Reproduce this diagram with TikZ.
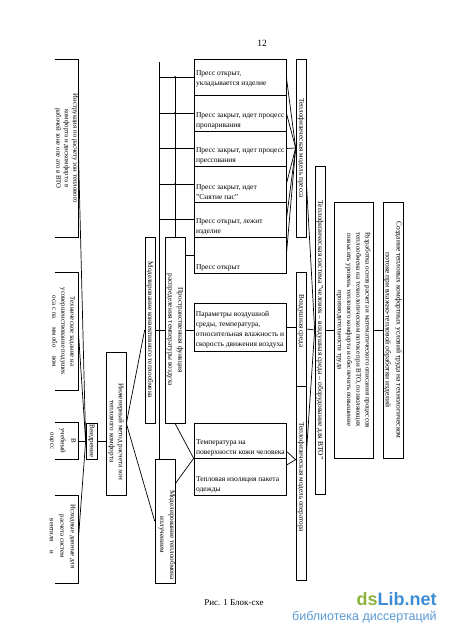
\documentclass[tikz,border=0pt]{standalone}
\usepackage{fontspec}
\setmainfont{Liberation Serif}
\newfontfamily\wmfont{Liberation Sans}
\usetikzlibrary{calc}
\definecolor{wmgreen}{HTML}{8DB33C}
\definecolor{wmblue}{HTML}{3D8DD4}
\definecolor{wmlight}{HTML}{5B9BD5}
\begin{document}
\begin{tikzpicture}[x=1pt,y=-1pt,line width=0.7pt,
  bx/.style={draw, rectangle, inner sep=0pt},
  obx/.style={rectangle, inner sep=0pt},
  vt/.style={rotate=-90, align=center, inner sep=0pt, font=\fontsize{7.2}{9}\selectfont},
  rt/.style={align=left, inner sep=2pt, anchor=south west, font=\fontsize{7.5}{10}\selectfont},
  dot/.style={circle, fill, inner sep=0pt, minimum size=2pt}]
\fill[white] (0,0) rectangle (450,636);
\useasboundingbox (0,0) rectangle (450,636);

\node (pnum) at (262,43) {\fontsize{9.5}{11}\selectfont 12};

% left column (open on the left)
\node[obx, minimum width=23, minimum height=177] (instr) at (66.5,148.5) {};
\node[obx, minimum width=23, minimum height=117] (tech) at (66.5,331.5) {};
\node[obx, minimum width=23, minimum height=36] (ucheb) at (66.5,441) {};
\node[obx, minimum width=23, minimum height=87] (ishod) at (66.5,539.5) {};
\foreach \b in {instr,tech,ucheb,ishod}
  \draw (\b.north west) -- (\b.north east) -- (\b.south east) -- (\b.south west);
\node[vt, font=\fontsize{6.8}{8.5}\selectfont] (instrT) at (instr.center) {Инструкция по расчету зон теплового\\комфорта и дискомфорта в\\рабочей зоне опе ато в ВТО};
\node[vt, font=\fontsize{6.8}{9}\selectfont] (techT) at ($(tech.center)+(-3,0)$) {Техническое задание на\\усовершенствование подушек\\оса с па \quad мм обо \quad вом};
\node[vt, font=\fontsize{6.8}{10.5}\selectfont] (uchebT) at ($(ucheb.center)+(-4,0)$) {В\\учебный\\оцесс};
\node[vt, font=\fontsize{6.8}{10.5}\selectfont] (ishodT) at ($(ishod.center)+(-4,-3)$) {Исходные данные для\\расчета систем\\вентиля \quad и};

\node[bx, minimum width=11, minimum height=36] (vnedr) at (91.5,441) {};
\node[vt] (vnedrT) at (vnedr.center) {Внедрение};
\node[bx, minimum width=20, minimum height=143] (inzh) at (116,423.5) {};
\node[vt] (inzhT) at ($(inzh.center)+(0,8)$) {Инженерный метод расчета зон\\теплового комфорта};
\node[bx, minimum width=10, minimum height=186] (konv) at (150,330) {};
\node[vt] (konvT) at (konv.center) {Моделирование конвективного теплообмена};
\node[bx, minimum width=20, minimum height=186] (prostr) at (175,330) {};
\node[vt, font=\fontsize{7.2}{10}\selectfont] (prostrT) at (prostr.center) {Пространственная функция\\распределения температуры воздуха};
\node[bx, minimum width=20, minimum height=124] (izluch) at (165,521) {};
\node[vt, font=\fontsize{7.2}{10}\selectfont] (izluchT) at ($(izluch.center)+(2,14)$) {Моделирование теплообмена\\излучением};

% press states
\node[bx, minimum width=92, minimum height=36] (r1) at (240,77) {};
\node[bx, minimum width=92, minimum height=36] (r2) at (240,113) {};
\node[bx, minimum width=92, minimum height=35] (r3) at (240,148.5) {};
\node[bx, minimum width=92, minimum height=36] (r4) at (240,184) {};
\node[bx, minimum width=92, minimum height=35] (r5) at (240,219.5) {};
\node[bx, minimum width=92, minimum height=36] (r6) at (240,255) {};
\node[rt] (r1T) at ($(r1.south west)+(0,-6)$) {Пресс открыт,\\укладывается изделие};
\node[rt] (r2T) at (r2.south west) {Пресс закрыт, идет процесс\\пропаривания};
\node[rt] (r3T) at (r3.south west) {Пресс закрыт, идет процесс\\прессования};
\node[rt] (r4T) at (r4.south west) {Пресс закрыт, идет\\"Снятие пас"};
\node[rt] (r5T) at (r5.south west) {Пресс открыт, лежит\\изделие};
\node[rt] (r6T) at (r6.south west) {Пресс открыт};

\node[bx, minimum width=92, minimum height=48] (param) at (240,327) {};
\node[align=left, inner sep=2pt, font=\fontsize{7.5}{10}\selectfont] (paramT) at ($(param.center)+(0,3)$) {Параметры воздушной\\среды, температура,\\относительная влажность и\\скорость движения воздуха};

\node[bx, minimum width=92, minimum height=35] (t1) at (240,440.5) {};
\node[bx, minimum width=92, minimum height=37] (t2) at (240,476.5) {};
\node[rt] (t1T) at (t1.south west) {Температура на\\поверхности кожи человека};
\node[rt] (t2T) at (t2.south west) {Тепловая изоляция пакета\\одежды};

% models
\node[bx, minimum width=10, minimum height=178] (pressa) at (301,148) {};
\node[vt] (pressaT) at (pressa.center) {Теплофизическая модель пресса};
\node[bx, minimum width=10, minimum height=114] (vozd) at (301,329) {};
\node[vt] (vozdT) at ($(vozd.center)+(0,-8)$) {Воздушная среда};
\node[bx, minimum width=10, minimum height=194] (oper) at (301,483) {};
\node[vt] (operT) at ($(oper.center)+(0,-6)$) {Теплофизическая модель оператора};

\node[bx, minimum width=10, minimum height=328] (sys) at (320,330) {};
\node[vt, font=\fontsize{7.5}{9}\selectfont] (sysT) at (sys.center) {Теплофизическая система "человек – воздушная среда – оборудование для ВТО"};
\node[bx, minimum width=39, minimum height=256] (razr) at (353.5,330) {};
\node[vt, font=\fontsize{7}{9.3}\selectfont] (razrT) at (razr.center) {Разработка основ расчета и математического описания процессов\\теплообмена на технологическом потоке при ВТО, позволяющих\\повысить уровень теплового комфорта и обеспечить повышение\\производительности труда};
\node[bx, minimum width=20, minimum height=256] (sozd) at (393,330) {};
\node[vt, font=\fontsize{7.5}{11}\selectfont] (sozdT) at (sozd.center) {Создание тепловых комфортных условий труда на технологическом\\потоке при влажно-тепловой обработки изделий};

% connectors
\foreach \b in {instr,tech,ucheb,ishod} \draw (\b.east) -- (vnedr.west);
\draw (vnedr.east) -- (vnedr.east -| inzh.west);
\draw (inzh.east) -- (konv.west);
\draw (inzh.east) -- (izluch.west);
\draw (konv.east) -- (prostr.west);
\draw (prostr.east) -- (prostr.east -| param.west);
\coordinate (bus) at (159,62);
\draw (bus) -- (bus |- izluch.north);
\foreach \r in {r1,r2,r3,r4,r5} {
  \draw (bus |- \r.west) -- (\r.west);
  \node[dot] at (prostr.north |- \r.west) {};
}
\draw (prostr.north) -- (prostr.north |- r1.west);
\draw (r6.west -| prostr.east) -- (r6.west);
\foreach \r in {r1,r2,r3,r4,r5,r6} \draw (\r.east) -- (pressa.west);
\draw (param.east) -- (param.east -| vozd.west);
\draw (prostr.south) -- (t1.south west) -- ($(izluch.north east)!0.2!(izluch.south east)$);
\draw ($(t1.east)!0.6!(t1.south east)$) -- ($(oper.north west)!0.38!(oper.south west)$) -- ($(t2.east)!0.6!(t2.north east)$);
\draw ($(pressa.north east)!0.69!(pressa.south east)$) -- (sys.west);
\draw (vozd.east) -- (sys.west);
\draw ($(oper.north east)!0.35!(oper.south east)$) -- (sys.west);
\draw (sys.east) -- (razr.west);
\draw (razr.east) -- (sozd.west);

% caption and watermark
\node (cap) at (234,603) {\fontsize{9}{10}\selectfont Рис. 1 Блок-схе};
\node[anchor=base east, inner sep=0pt] (wm1) at (437,605) {\wmfont\bfseries\fontsize{18}{18}\selectfont\textcolor{wmgreen}{ds}\textcolor{wmblue}{Lib.net}};
\node[anchor=base east, inner sep=0pt, text=wmlight] (wm2) at (437,620) {\wmfont\fontsize{12.5}{13}\selectfont библиотека диссертаций};
\end{tikzpicture}
\end{document}
